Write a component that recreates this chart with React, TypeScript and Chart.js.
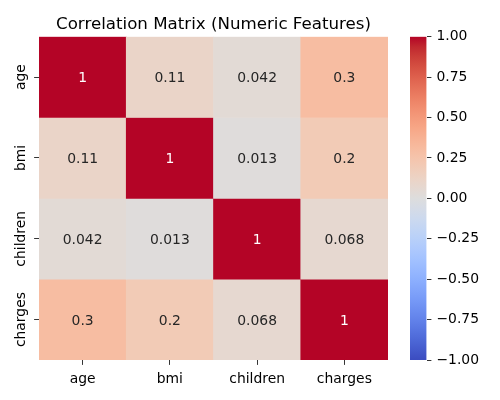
import React, { useEffect, useRef } from "react";
import { Chart, registerables } from "chart.js";

Chart.register(...registerables);

const features = ["age", "bmi", "children", "charges"];
const rowAge = [1, 0.109, 0.042, 0.299];
const rowBmi = [0.109, 1, 0.013, 0.198];
const rowChildren = [0.042, 0.013, 1, 0.068];
const rowCharges = [0.299, 0.198, 0.068, 1];
const matrixRows = [rowAge, rowBmi, rowChildren, rowCharges];
const colorbarTicks = [-1, -0.75, -0.5, -0.25, 0, 0.25, 0.5, 0.75, 1];
const titleText = "Correlation Matrix (Numeric Features)";

// matplotlib coolwarm (Moreland) control points, 33 entries
const coolwarm: number[][] = [
  [59, 76, 192], [68, 90, 204], [77, 104, 215], [87, 117, 225], [98, 130, 234],
  [108, 142, 241], [119, 154, 247], [130, 165, 251], [141, 176, 254], [152, 185, 255],
  [163, 194, 255], [174, 201, 253], [184, 208, 249], [194, 213, 244], [204, 217, 238],
  [213, 219, 230], [221, 221, 221], [229, 216, 209], [236, 211, 197], [241, 204, 184],
  [245, 196, 172], [247, 187, 159], [247, 177, 147], [247, 166, 134], [244, 154, 123],
  [241, 141, 111], [236, 127, 99], [229, 112, 88], [222, 96, 77], [213, 80, 66],
  [203, 62, 56], [192, 40, 47], [180, 4, 38],
];

function cmapRGB(v: number): number[] {
  let t = (v + 1) / 2;
  t = Math.max(0, Math.min(1, t));
  const p = t * (coolwarm.length - 1);
  const i = Math.min(coolwarm.length - 2, Math.floor(p));
  const f = p - i;
  const a = coolwarm[i], b = coolwarm[i + 1];
  return [0, 1, 2].map((k) => a[k] + (b[k] - a[k]) * f);
}
function cmap(v: number): string {
  const c = cmapRGB(v);
  return `rgb(${Math.round(c[0])},${Math.round(c[1])},${Math.round(c[2])})`;
}
function fmt2g(v: number): string {
  return String(Number(v.toPrecision(2)));
}
function textColorFor(v: number): string {
  const c = cmapRGB(v).map((x) => {
    const s = x / 255;
    return s <= 0.03928 ? s / 12.92 : Math.pow((s + 0.055) / 1.055, 2.4);
  });
  const lum = 0.2126 * c[0] + 0.7152 * c[1] + 0.0722 * c[2];
  return lum > 0.408 ? "rgb(38,38,38)" : "#ffffff";
}

const FONT = "DejaVu Sans";
const TICK_LEN = 4.9;

export default function App() {
  const mainRef = useRef<HTMLCanvasElement>(null);
  const cbRef = useRef<HTMLCanvasElement>(null);

  useEffect(() => {
    Chart.defaults.font.family = FONT;
    Chart.defaults.color = "#000";

    const annotPlugin = {
      id: "annot",
      afterDatasetsDraw(chart: any) {
        const ctx = chart.ctx;
        const xs = chart.scales.x;
        const ys = chart.scales.y;
        ctx.save();
        ctx.font = `13.9px "${FONT}"`;
        ctx.textAlign = "center";
        ctx.textBaseline = "alphabetic";
        matrixRows.forEach((row, i) => {
          row.forEach((v, j) => {
            const x = xs.getPixelForValue(j);
            const y = ys.getPixelForValue(i + 0.5);
            ctx.fillStyle = textColorFor(v);
            ctx.fillText(fmt2g(v), x, y + 5.1);
          });
        });
        ctx.restore();
      },
      afterDraw(chart: any) {
        const ctx = chart.ctx;
        const ys = chart.scales.y;
        ctx.save();
        ctx.font = `13.9px "${FONT}"`;
        ctx.fillStyle = "#000";
        ctx.textAlign = "center";
        ctx.textBaseline = "alphabetic";
        features.forEach((f, i) => {
          const y = ys.getPixelForValue(i + 0.5);
          ctx.save();
          ctx.translate(24.7, y);
          ctx.rotate(-Math.PI / 2);
          ctx.fillText(f, 0, 0);
          ctx.restore();
        });
        ctx.restore();
      },
    };

    const main = new Chart(mainRef.current!, {
      type: "bar",
      data: {
        labels: features,
        datasets: matrixRows.map((row, i) => ({
          label: features[i],
          data: row.map(() => [i, i + 1]) as any,
          backgroundColor: row.map((v) => cmap(v)),
          borderWidth: 0,
          barPercentage: 1,
          categoryPercentage: 1,
          grouped: false,
        })),
      },
      options: {
        responsive: false,
        animation: false,
        devicePixelRatio: 1,
        layout: { padding: { left: 0, right: 112, top: 0, bottom: 0 } },
        plugins: {
          legend: { display: false },
          tooltip: { enabled: false },
          title: {
            display: true,
            text: titleText,
            color: "#000",
            fullSize: false,
            font: { size: 16.67, weight: "normal", family: FONT },
            padding: { top: 14.3, bottom: 2.4 },
          },
        },
        scales: {
          x: {
            type: "category",
            offset: true,
            grid: {
              display: true,
              drawOnChartArea: false,
              drawTicks: true,
              tickLength: TICK_LEN,
              color: "#000",
              lineWidth: 0.8,
              offset: false,
            },
            border: { display: false },
            ticks: {
              color: "#000",
              font: { size: 13.9, family: FONT },
              padding: 6,
              maxRotation: 0,
              minRotation: 0,
            },
            afterFit(scale: any) {
              scale.height = 40;
            },
          },
          y: {
            type: "linear",
            min: 0,
            max: 4,
            reverse: true,
            grid: {
              display: true,
              drawOnChartArea: false,
              drawTicks: true,
              tickLength: TICK_LEN,
              color: "#000",
              lineWidth: 0.8,
            },
            border: { display: false },
            ticks: {
              callback: () => "",
            },
            afterBuildTicks(scale: any) {
              scale.ticks = features.map((_, i) => ({ value: i + 0.5 }));
            },
            afterFit(scale: any) {
              scale.width = 39;
            },
          },
        },
      } as any,
      plugins: [annotPlugin],
    });

    const cb = new Chart(cbRef.current!, {
      type: "bar",
      data: {
        labels: [""],
        datasets: [
          {
            data: [[-1, 1]] as any,
            borderWidth: 0,
            barPercentage: 1,
            categoryPercentage: 1,
            backgroundColor: (c: any) => {
              const area = c.chart.chartArea;
              if (!area) return "#ddd";
              const g = c.chart.ctx.createLinearGradient(0, area.bottom, 0, area.top);
              coolwarm.forEach((col, k) => {
                g.addColorStop(k / (coolwarm.length - 1), `rgb(${col[0]},${col[1]},${col[2]})`);
              });
              return g;
            },
          },
        ],
      },
      options: {
        responsive: false,
        animation: false,
        devicePixelRatio: 1,
        layout: { padding: { left: 30, right: 0, top: 36.7, bottom: 40 } },
        plugins: { legend: { display: false }, tooltip: { enabled: false }, title: { display: false } },
        scales: {
          x: { display: false, offset: true },
          y: {
            type: "linear",
            position: "right",
            min: -1,
            max: 1,
            grid: {
              display: true,
              drawOnChartArea: false,
              drawTicks: true,
              tickLength: TICK_LEN,
              color: "#000",
              lineWidth: 0.8,
            },
            border: { display: false },
            ticks: {
              color: "#000",
              font: { size: 13.9, family: FONT },
              padding: 5,
              callback: (v: any) => {
                const n = Number(v);
                const s = Math.abs(n).toFixed(2);
                return n < 0 ? "\u2212" + s : s;
              },
            },
            afterBuildTicks(scale: any) {
              scale.ticks = colorbarTicks.map((v) => ({ value: v }));
            },
            afterFit(scale: any) {
              scale.width = 73.5;
            },
          },
        },
      } as any,
    });

    return () => {
      main.destroy();
      cb.destroy();
    };
  }, []);

  return (
    <div style={{ position: "absolute", left: 0, top: 0, width: 500, height: 400, background: "#fff" }}>
      <canvas
        ref={mainRef}
        width={500}
        height={400}
        style={{ position: "absolute", left: 0, top: 0, width: 500, height: 400 }}
      />
      <canvas
        ref={cbRef}
        width={120}
        height={400}
        style={{ position: "absolute", left: 380, top: 0, width: 120, height: 400 }}
      />
    </div>
  );
}
